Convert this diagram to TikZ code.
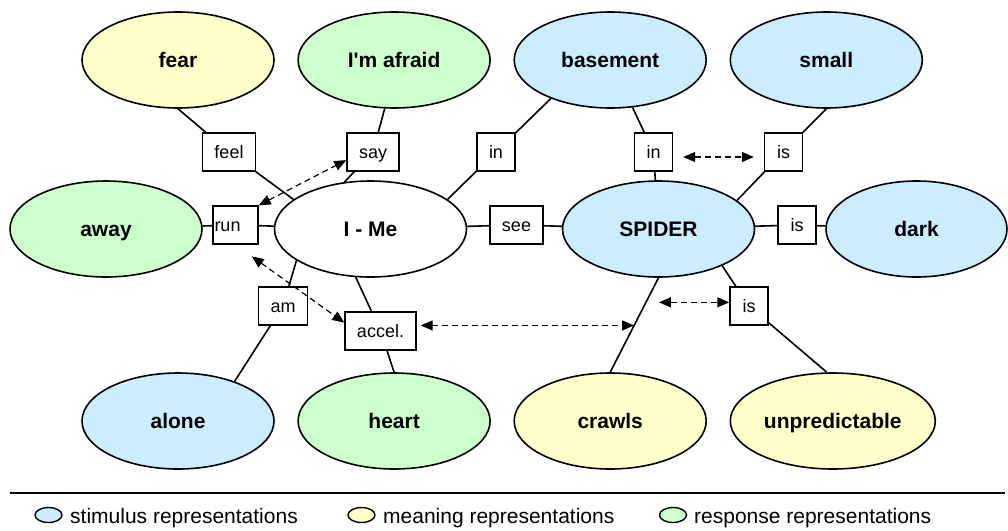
\documentclass[tikz,border=0pt]{standalone}
\usepackage{fontspec}
\setmainfont{Liberation Sans}
\usetikzlibrary{arrows.meta,positioning,shapes.geometric,calc}
\definecolor{StimBlue}{HTML}{CCECFF}
\definecolor{MeanYellow}{HTML}{FFFFCC}
\definecolor{RespGreen}{HTML}{CCFFCC}

\begin{document}
\begin{tikzpicture}[
  x=1pt, y=-1pt,
  node distance=22.5pt,
  concept/.style={draw,ellipse,line width=1.6pt,minimum width=192pt,minimum height=96pt,inner sep=0pt,text height=14pt,text depth=0pt,font=\fontsize{21}{25}\selectfont\bfseries},
  stim/.style={concept,fill=StimBlue},
  mean/.style={concept,fill=MeanYellow},
  resp/.style={concept,fill=RespGreen},
  rel/.style={draw,fill=white,line width=1.4pt,minimum width=38pt,minimum height=38pt,inner xsep=12pt,text height=13pt,text depth=0pt,font=\fontsize{18}{22}\selectfont},
  link/.style={line width=1.6pt},
  assoc/.style={{Triangle[length=12pt,width=10pt]}-{Triangle[length=12pt,width=10pt]},line width=1.2pt,dash pattern=on 6pt off 4pt},
  key/.style={draw,ellipse,line width=1.4pt,minimum width=27pt,minimum height=15pt,inner sep=0pt},
  keytext/.style={anchor=base west,inner sep=0pt,font=\fontsize{21}{25}\selectfont}
]
  \useasboundingbox (0,0) rectangle (1008,530);

  % concepts
  \node[mean] (fear) at (178,60) {fear};
  \node[resp, right=of fear] (afraid) {I\textquotesingle m afraid};
  \node[stim, right=of afraid] (basement) {basement};
  \node[stim, right=of basement] (small) {small};

  \node[resp] (away) at (106,229) {away};
  \node[concept, fill=white] (IMe) at (370.5,229) {I - Me};
  \node[stim] (spider) at (658.5,229) {SPIDER};
  \node[stim, minimum width=181pt] (dark) at (916.5,229) {dark};

  \node[stim] (alone) at (178,421) {alone};
  \node[resp, right=of alone] (heart) {heart};
  \node[mean, right=of heart] (crawls) {crawls};
  \node[mean, right=of crawls, minimum width=205pt] (unpred) {unpredictable};

  % relations
  \node[rel] (feel) at (229,152) {feel};
  \node[rel] (say) at (373,152) {say};
  \node[rel] (inA) at (496,152) {in};
  \node[rel] (inB) at (653.5,152) {in};
  \node[rel] (isA) at (783.5,152) {is};
  \node[rel, inner xsep=1.5pt, text width=42pt, align=left] (run) at (235.5,225) {run};
  \node[rel] (see) at (516.5,225) {see};
  \node[rel] (isB) at (797,225) {is};
  \node[rel] (am) at (283,306) {am};
  \node[rel] (accel) at (380.5,331) {accel.};
  \node[rel] (isC) at (749,306) {is};

  \draw[link] (fear.south) -- (feel) -- (IMe.159);
  \draw[link] (afraid.259) -- (say) -- (IMe.119);
  \draw[link] (basement.213) -- (inA) -- (IMe.21);
  \draw[link] (basement) -- (inB) -- (spider);
  \draw[link] (small.south) -- (isA) -- (spider.20);
  \draw[link] (away) -- (run) -- (IMe) -- (see) -- (spider) -- (isB) -- (dark);
  \draw[link] (alone.35) -- (am) -- (IMe.203);
  \draw[link] (IMe.253) -- (accel) -- (heart.north);
  \draw[link] (spider.south) -- (crawls.north);
  \draw[link] (spider.330) -- (isC) -- (unpred.97);

  % associations
  \coordinate (crawlA) at ($(spider.south)!0.26!(crawls.north)$);
  \coordinate (crawlB) at ($(spider.south)!0.505!(crawls.north)$);
  \draw[assoc] (run.north east) -- (say.197);
  \draw[assoc, shorten <=20pt] (run.south) -- (accel.167);
  \draw[assoc, shorten <=10pt, shorten >=10pt] ([yshift=-5pt]inB.east) -- ([yshift=-5pt]isA.west);
  \draw[assoc, shorten <=13pt] (crawlA) -- (crawlA -| isC.west);
  \draw[assoc, shorten <=4pt] (accel.east |- crawlB) -- (crawlB);

  % legend
  \draw[line width=1.4pt] (10,493) -- (1005,493);
  \node[key, fill=StimBlue] (keyStim) at (48.5,515) {};
  \node[keytext] (keyStimText) at (70,523) {stimulus representations};
  \node[key, fill=MeanYellow] (keyMean) at (361.5,515) {};
  \node[keytext] (keyMeanText) at (383,523) {meaning representations};
  \node[key, fill=RespGreen] (keyResp) at (673,515) {};
  \node[keytext] (keyRespText) at (694,523) {response representations};
\end{tikzpicture}
\end{document}
